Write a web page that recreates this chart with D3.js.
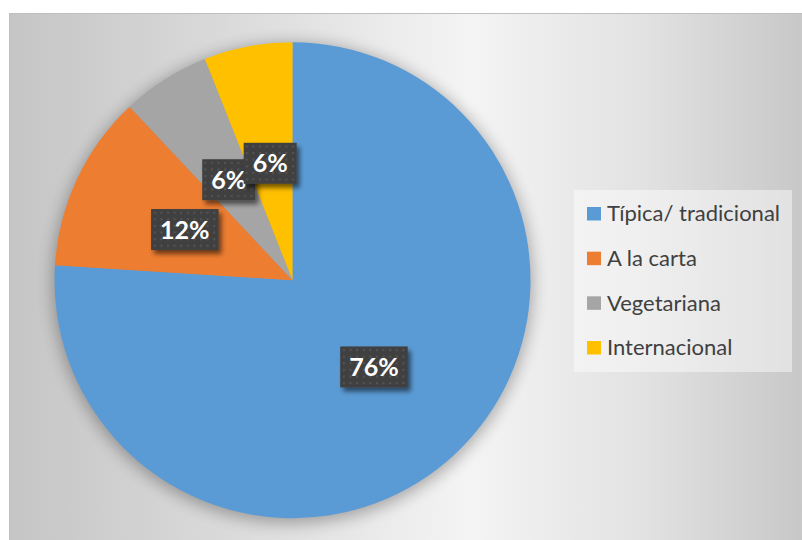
<!DOCTYPE html>
<html>
<head>
<meta charset="utf-8">
<script src="https://cdn.jsdelivr.net/npm/d3@7"></script>
<style>
  html, body { margin: 0; padding: 0; background: #ffffff; }
  svg { display: block; }
</style>
</head>
<body>
<script>
// Tipo de comida preferida (porcentaje de respuestas)
const categories = ["Típica/ tradicional", "A la carta", "Vegetariana", "Internacional"];
const values = [76, 12, 6, 6];
const colors = ["#5b9bd5", "#ed7d31", "#a5a5a5", "#ffc000"];

const W = 802, H = 540;
const svg = d3.select("body").append("svg").attr("width", W).attr("height", H);
const defs = svg.append("defs");

// Chart area background: grey at the sides, bright towards the middle
const bg = defs.append("linearGradient").attr("id", "bgGrad")
  .attr("gradientUnits", "userSpaceOnUse")
  .attr("x1", 9).attr("y1", 0).attr("x2", 802).attr("y2", 0);
[[0, "#c5c5c5"], [0.3, "#dcdcdc"], [0.58, "#f4f4f4"], [0.8, "#e2e2e2"], [1, "#c8c8c8"]]
  .forEach(([o, c]) => bg.append("stop").attr("offset", o).attr("stop-color", c));

// Soft shadow around the pie
const pieShadow = defs.append("filter").attr("id", "pieShadow")
  .attr("x", "-20%").attr("y", "-20%").attr("width", "140%").attr("height", "140%");
pieShadow.append("feGaussianBlur").attr("stdDeviation", 8);

// Shadow behind the data labels
const lblShadow = defs.append("filter").attr("id", "lblShadow")
  .attr("x", "-30%").attr("y", "-30%").attr("width", "170%").attr("height", "180%");
lblShadow.append("feGaussianBlur").attr("in", "SourceAlpha").attr("stdDeviation", 2.5).attr("result", "b");
lblShadow.append("feOffset").attr("in", "b").attr("dx", 3).attr("dy", 4).attr("result", "o");
lblShadow.append("feComponentTransfer").attr("in", "o").attr("result", "s")
  .append("feFuncA").attr("type", "linear").attr("slope", 0.55);
const merge = lblShadow.append("feMerge");
merge.append("feMergeNode").attr("in", "s");
merge.append("feMergeNode").attr("in", "SourceGraphic");

// Dotted dark fill for the data labels
const pat = defs.append("pattern").attr("id", "dots")
  .attr("patternUnits", "userSpaceOnUse").attr("width", 6.6).attr("height", 6.6);
pat.append("rect").attr("width", 6.6).attr("height", 6.6).attr("fill", "#404040");
pat.append("rect").attr("x", 2).attr("y", 2).attr("width", 2).attr("height", 2).attr("fill", "#555555");

// Chart area with border
svg.append("rect")
  .attr("x", 9.5).attr("y", 13.5).attr("width", 820).attr("height", 560)
  .attr("fill", "url(#bgGrad)").attr("stroke", "#bfbfbf").attr("stroke-width", 1);

// Pie
const cx = 292.5, cy = 280.2, R = 238;
const g = svg.append("g").attr("transform", `translate(${cx},${cy})`);

g.append("circle").attr("cx", 0).attr("cy", 3).attr("r", R + 2)
  .attr("fill", "#000").attr("opacity", 0.3).attr("filter", "url(#pieShadow)");

const data = categories.map((c, i) => ({ name: c, value: values[i], color: colors[i] }));
const pie = d3.pie().sort(null).value(d => d.value);
const arcs = pie(data);
const arc = d3.arc().innerRadius(0).outerRadius(R);

g.selectAll("path.slice").data(arcs).join("path")
  .attr("class", "slice")
  .attr("d", arc)
  .attr("fill", d => d.data.color);

// Data labels at the slice centroids
const total = d3.sum(values);
const fmt = d3.format(".0%");
const labels = g.selectAll("g.lbl").data(arcs).join("g")
  .attr("class", "lbl")
  .attr("transform", d => `translate(${arc.centroid(d)})`);

labels.each(function (d) {
  const el = d3.select(this);
  const t = el.append("text")
    .attr("text-anchor", "middle")
    .attr("dy", "0.36em")
    .attr("font-family", "Lato, 'Open Sans', sans-serif")
    .attr("font-weight", "bold")
    .attr("font-size", 25)
    .attr("fill", "#ffffff")
    .text(fmt(d.data.value / total));
  const tw = t.node().getComputedTextLength();
  const bw = tw + 18, bh = 41;
  el.insert("rect", "text")
    .attr("x", -bw / 2).attr("y", -bh / 2)
    .attr("width", bw).attr("height", bh)
    .attr("fill", "url(#dots)")
    .attr("filter", "url(#lblShadow)");
});

// Legend
const lg = svg.append("g");
lg.append("rect")
  .attr("x", 574).attr("y", 190).attr("width", 218).attr("height", 182)
  .attr("fill", "#ffffff").attr("opacity", 0.45);

const ly = d3.scalePoint().domain(categories).range([213.5, 347.5]);
const items = lg.selectAll("g.item").data(data).join("g")
  .attr("class", "item")
  .attr("transform", d => `translate(587,${ly(d.name)})`);
items.append("rect")
  .attr("x", 0).attr("y", -6.5).attr("width", 14).attr("height", 13.5)
  .attr("fill", d => d.color);
items.append("text")
  .attr("x", 20).attr("dy", "0.36em")
  .attr("font-family", "Lato, 'Open Sans', sans-serif")
  .attr("font-size", 22)
  .attr("fill", "#404040")
  .text(d => d.name);
</script>
</body>
</html>
